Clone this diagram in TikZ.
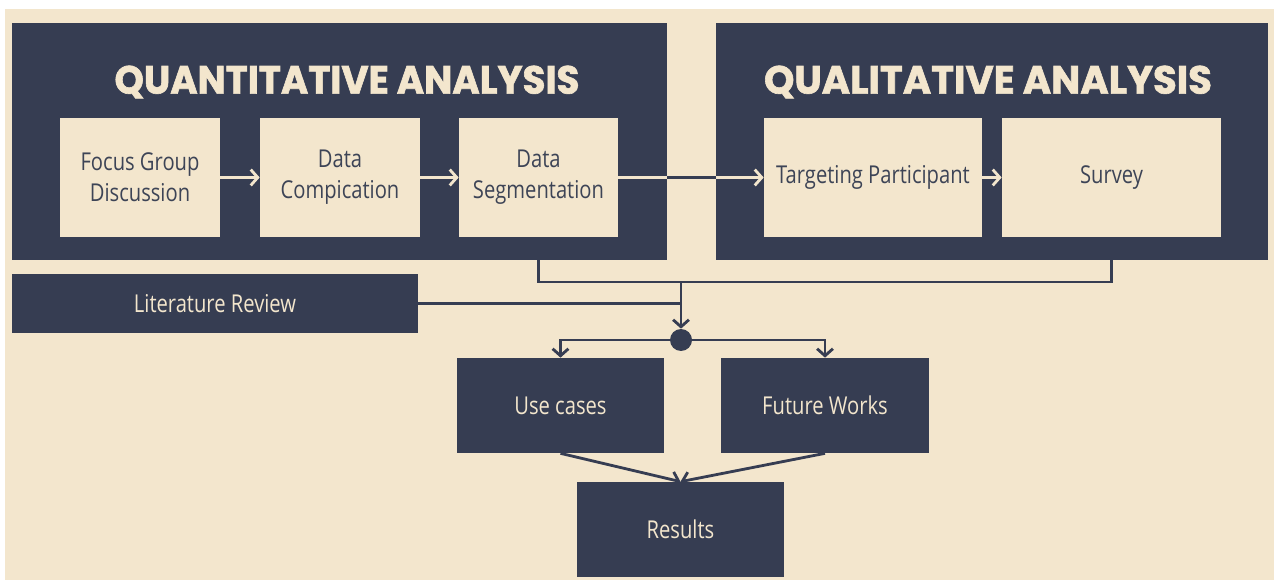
\documentclass[tikz,border=0pt]{standalone}
\usepackage{fontspec}
\setmainfont{Open Sans}[FakeStretch=0.82]
\newfontfamily\titlefont{Poppins}[BoldFeatures={FakeBold=1.6}]
\usetikzlibrary{arrows.meta}
\definecolor{creambg}{RGB}{243,230,205}
\definecolor{navyfill}{RGB}{54,61,82}
\newcommand{\bigtitle}[2]{\resizebox{#1}{0.56cm}{\titlefont\bfseries #2}}

\begin{document}
\begin{tikzpicture}[x=0.02cm,y=-0.02cm,
      panel/.style={rectangle,fill=navyfill,inner sep=0pt},
      inbox/.style={rectangle,fill=creambg,text=navyfill!90!gray,inner sep=0pt,align=center,
        minimum height=2.38cm,font=\fontsize{14}{17.6}\selectfont},
      darkbox/.style={rectangle,fill=navyfill,text=creambg,inner sep=0pt,align=center,
        font=\fontsize{14}{17.6}\selectfont},
      hubdot/.style={circle,fill=navyfill,inner sep=0pt,minimum size=0.44cm},
      flow/.style={draw=navyfill,line width=1.6pt},
      lightflow/.style={draw=creambg,line width=1.6pt},
      tip/.style={-{Straight Barb[length=4pt,width=9pt,line width=1.6pt]}},
    ]
      \useasboundingbox (0,0) rectangle (1274,580);
      \fill[white] (0,0) rectangle (1274,580);
      \fill[creambg] (5,9) rectangle (1274,580);

      % Two analysis panels
      \node[panel,minimum width=13.1cm,minimum height=4.74cm] (quant) at (339.5,141.5) {};
      \node[panel,minimum width=11.04cm,minimum height=4.74cm] (qual) at (992,141.5) {};
      \node[text=creambg,inner sep=0pt] (quanttitle) at (347,82) {\bigtitle{9.3cm}{QUANTITATIVE ANALYSIS}};
      \node[text=creambg,inner sep=0pt] (qualtitle) at (988,82) {\bigtitle{8.96cm}{QUALITATIVE ANALYSIS}};

      % Steps inside the panels
      \node[inbox,minimum width=3.2cm] (fgd) at (140,177.5) {Focus Group\\Discussion};
      \node[inbox,minimum width=3.2cm] (dcomp) at (340,177.5) {Data\\Compication};
      \node[inbox,minimum width=3.18cm] (dseg) at (538.5,177.5) {Data\\Segmentation};
      \node[inbox,minimum width=4.36cm] (tpart) at (873,177.5) {Targeting Participant};
      \node[inbox,minimum width=4.38cm] (survey) at (1111.5,177.5) {Survey};

      % Lower boxes
      \node[darkbox,minimum width=8.12cm,minimum height=1.18cm] (lit) at (215,303.5) {Literature Review};
      \node[hubdot] (hub) at (681,340) {};
      \node[darkbox,minimum width=4.14cm,minimum height=1.9cm] (usec) at (560.5,405.5) {Use cases};
      \node[darkbox,minimum width=4.16cm,minimum height=1.9cm] (futw) at (825,405.5) {Future Works};
      \node[darkbox,minimum width=4.14cm,minimum height=1.9cm] (res) at (680.5,529.5) {Results};
      \coordinate (bus) at (681,282);

      % Arrows in the panels
      \draw[lightflow,tip] (fgd) -- (dcomp);
      \draw[lightflow,tip] (dcomp) -- (dseg);
      \draw[lightflow,tip] (dseg) -- (tpart);
      \draw[flow] (quant.east |- dseg.east) -- (qual.west |- dseg.east);
      \draw[lightflow,tip] (tpart) -- (survey);

      % Merging and splitting
      \draw[flow] (dseg.south) |- (bus) -| (survey.south);
      \draw[flow] (lit.east) -- (lit.east -| bus);
      \draw[flow,tip] (bus) -- (hub);
      \draw[flow,tip] (hub) -| (usec.north);
      \draw[flow,tip] (hub) -| (futw.north);
      \draw[flow,tip] (usec.south) -- (res.north);
      \draw[flow,tip] (futw.south) -- (res.north);
    \end{tikzpicture}
\end{document}
